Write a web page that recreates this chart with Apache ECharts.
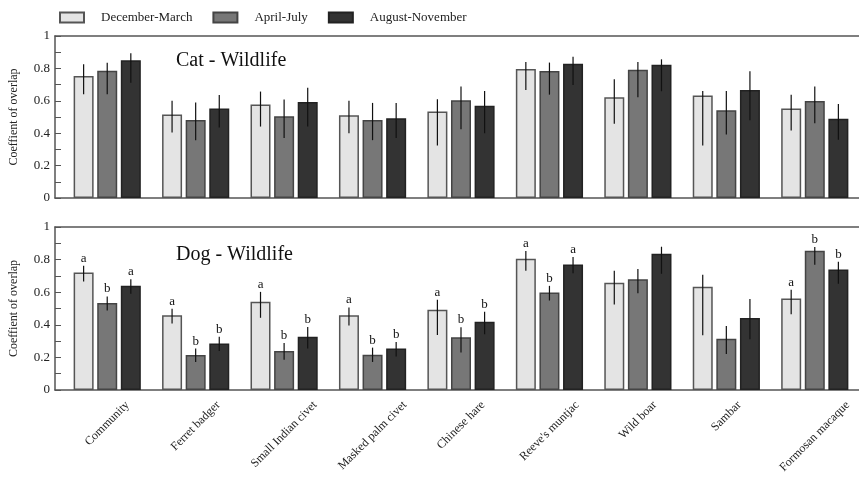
<!DOCTYPE html>
<html><head><meta charset="utf-8">
<script src="https://cdn.jsdelivr.net/npm/echarts@6/dist/echarts.min.js"></script>
<style>html,body{margin:0;padding:0;background:#fff}#c{width:859px;height:477px}</style>
</head><body><div id="c"></div>
<script>
const categories = ['Community','Ferret badger','Small Indian civet','Masked palm civet','Chinese hare',"Reeve's muntjac",'Wild boar','Sambar','Formosan macaque'];
const seasons = ['December-March','April-July','August-November'];
const yTickValues = [0, 0.2, 0.4, 0.6, 0.8, 1];

// Cat - Wildlife
const catMeanDM = [0.753,0.515,0.577,0.511,0.534,0.797,0.622,0.632,0.552];
const catLoDM   = [0.640,0.404,0.441,0.400,0.324,0.667,0.458,0.324,0.417];
const catHiDM   = [0.825,0.600,0.657,0.601,0.610,0.840,0.733,0.661,0.638];
const catMeanAJ = [0.786,0.482,0.505,0.482,0.604,0.784,0.792,0.542,0.598];
const catLoAJ   = [0.640,0.357,0.370,0.357,0.425,0.638,0.622,0.392,0.462];
const catHiAJ   = [0.835,0.590,0.608,0.587,0.688,0.836,0.840,0.661,0.688];
const catMeanAN = [0.850,0.552,0.593,0.493,0.569,0.829,0.823,0.667,0.489];
const catLoAN   = [0.712,0.435,0.441,0.370,0.400,0.698,0.659,0.480,0.360];
const catHiAN   = [0.893,0.636,0.680,0.587,0.661,0.872,0.856,0.782,0.581];

// Dog - Wildlife
const dogMeanDM = [0.721,0.459,0.541,0.459,0.492,0.805,0.658,0.633,0.561];
const dogLoDM   = [0.666,0.408,0.443,0.395,0.338,0.732,0.525,0.336,0.465];
const dogHiDM   = [0.762,0.498,0.602,0.506,0.553,0.852,0.732,0.707,0.615];
const dogMeanAJ = [0.533,0.215,0.240,0.217,0.324,0.598,0.680,0.314,0.855];
const dogLoAJ   = [0.488,0.172,0.186,0.172,0.230,0.549,0.594,0.221,0.768];
const dogHiAJ   = [0.574,0.254,0.289,0.260,0.385,0.639,0.742,0.393,0.877];
const dogMeanAN = [0.639,0.285,0.326,0.254,0.418,0.770,0.836,0.441,0.740];
const dogLoAN   = [0.590,0.240,0.254,0.205,0.342,0.717,0.713,0.311,0.652];
const dogHiAN   = [0.680,0.326,0.387,0.295,0.480,0.816,0.879,0.559,0.787];
const dogLettersDM = ['a','a','a','a','a','a','','','a'];
const dogLettersAJ = ['b','b','b','b','b','b','','','b'];
const dogLettersAN = ['a','b','b','b','b','a','','','b'];

const FONT = '"Liberation Serif", "Times New Roman", serif';
const BAR_W = 20, BAR_GAP = 0.18;
const fills = ['#e4e4e4', '#777777', '#333333'];
const borders = ['#555555', '#444444', '#222222'];

// x label layout: centre each rotated label on its category, tops aligned
const mctx = document.createElement('canvas').getContext('2d');
const LBL_SIZE = 12;
mctx.font = LBL_SIZE + 'px "Liberation Serif"';
const widths = categories.map(c => mctx.measureText(c).width);
const Lmin = Math.min.apply(null, widths);
const rich = {};
categories.forEach((c, i) => {
  const P = 0.5 * (widths[i] - Lmin);
  rich['r' + i] = { padding: [P, P, 0, 0], fontFamily: FONT, fontSize: LBL_SIZE, color: '#222' };
});
const labelMargin = 9 + 0.354 * (Lmin + LBL_SIZE);

const axisColor = '#555';
function frameX(gridIndex, pos) {
  return { type: 'value', gridIndex, position: pos, min: 0, max: 1,
    axisLine: { show: true, onZero: false, lineStyle: { color: axisColor, width: 1.5 } },
    axisTick: { show: false }, axisLabel: { show: false }, splitLine: { show: false } };
}
function frameY(gridIndex) {
  return { type: 'value', gridIndex, min: 0, max: 1, interval: 0.2,
    name: 'Coeffient of overlap', nameLocation: 'middle', nameGap: 35, nameRotate: 90,
    nameTextStyle: { fontFamily: FONT, fontSize: 12, color: '#222' },
    axisLine: { show: true, lineStyle: { color: axisColor, width: 1.5 } },
    axisTick: { show: true, inside: true, length: 6, lineStyle: { color: axisColor, width: 1 } },
    minorTick: { show: true, splitNumber: 2, length: 6, lineStyle: { color: axisColor, width: 1 } },
    splitLine: { show: false }, minorSplitLine: { show: false },
    axisLabel: { fontFamily: FONT, fontSize: 13, color: '#222', margin: 5,
      formatter: v => { const r = Math.round(v * 10) / 10; return yTickValues.indexOf(r) >= 0 ? String(r) : ''; } } };
}
function barX(gridIndex, showLabels) {
  return { type: 'category', gridIndex, data: categories,
    axisLine: { show: false }, axisTick: { show: false }, splitLine: { show: false },
    axisLabel: showLabels ? { show: true, interval: 0, rotate: 45, hideOverlap: false,
      align: 'center', verticalAlign: 'middle', margin: labelMargin,
      formatter: (v, i) => '{r' + i + '|' + v + '}', rich } : { show: false } };
}
function barY(gridIndex) {
  return { type: 'value', gridIndex, min: 0, max: 1, show: false };
}

function bars(xi, yi, means) {
  return means.map((m, s) => ({
    name: seasons[s], type: 'bar', xAxisIndex: xi, yAxisIndex: yi,
    barWidth: BAR_W, barGap: (BAR_GAP * 100) + '%', data: m,
    itemStyle: { color: fills[s], borderColor: borders[s], borderWidth: 1.5 },
    emphasis: { disabled: true }, z: 2
  }));
}
function errs(xi, yi, los, his, letters) {
  return los.map((lo, s) => ({
    type: 'custom', xAxisIndex: xi, yAxisIndex: yi, z: 4, silent: true,
    data: lo.map((v, i) => [i, v, his[s][i]]),
    renderItem: (params, api) => {
      const i = api.value(0);
      const top = api.coord([i, api.value(2)]);
      const bot = api.coord([i, api.value(1)]);
      const x = top[0] + (s - 1) * BAR_W * (1 + BAR_GAP);
      const children = [{ type: 'line', shape: { x1: x, y1: top[1], x2: x, y2: bot[1] },
        style: { stroke: '#111', lineWidth: 1.2 } }];
      const letter = letters ? letters[s][params.dataIndex] : '';
      if (letter) children.push({ type: 'text', style: { text: letter, x: x, y: top[1] - 1,
        align: 'center', verticalAlign: 'bottom', font: '13px ' + FONT, fill: '#111' } });
      return { type: 'group', children };
    }
  }));
}

const option = {
  animation: false,
  backgroundColor: '#fff',
  title: [
    { text: 'Cat - Wildlife', left: 176, top: 51, padding: 0, textStyle: { fontFamily: FONT, fontSize: 20, fontWeight: 'normal', color: '#111' } },
    { text: 'Dog - Wildlife', left: 176, top: 245, padding: 0, textStyle: { fontFamily: FONT, fontSize: 20, fontWeight: 'normal', color: '#111' } }
  ],
  legend: { data: seasons.map(n => ({ name: n, icon: 'rect' })), left: 59, top: 11, padding: 0, itemWidth: 24, itemHeight: 10, itemGap: 20,
    selectedMode: false,
    textStyle: { fontFamily: FONT, fontSize: 13, color: '#222', padding: [0, 0, 0, 12] } },
  grid: [
    { left: 53, top: 36, width: 806, height: 162 },
    { left: 63, top: 36, width: 797, height: 162 },
    { left: 53, top: 227, width: 806, height: 163 },
    { left: 63, top: 227, width: 797, height: 163 }
  ],
  xAxis: [frameX(0, 'bottom'), frameX(0, 'top'), barX(1, false), frameX(2, 'bottom'), frameX(2, 'top'), barX(3, true)],
  yAxis: [frameY(0), barY(1), frameY(2), barY(3)],
  series: [].concat(
    bars(2, 1, [catMeanDM, catMeanAJ, catMeanAN]),
    errs(2, 1, [catLoDM, catLoAJ, catLoAN], [catHiDM, catHiAJ, catHiAN], null),
    bars(5, 3, [dogMeanDM, dogMeanAJ, dogMeanAN]),
    errs(5, 3, [dogLoDM, dogLoAJ, dogLoAN], [dogHiDM, dogHiAJ, dogHiAN], [dogLettersDM, dogLettersAJ, dogLettersAN])
  )
};
const chart = echarts.init(document.getElementById('c'), null, { renderer: 'canvas' });
chart.setOption(option);
</script></body></html>
